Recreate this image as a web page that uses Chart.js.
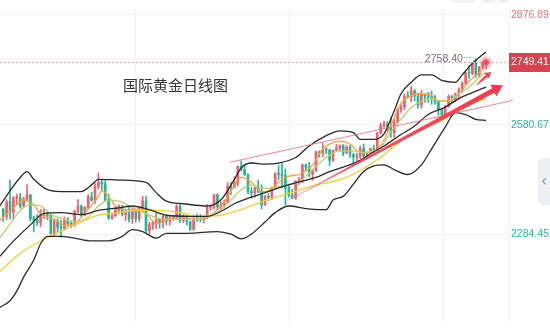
<!DOCTYPE html>
<html>
<head>
<meta charset="utf-8">
<title>国际黄金日线图</title>
<script src="https://cdn.jsdelivr.net/npm/chart.js@4.4.1/dist/chart.umd.min.js"></script>
<style>
  html, body { margin: 0; padding: 0; background: #fff; }
  #box { position: relative; width: 550px; height: 330px; overflow: hidden; }
  #goldChart { position: absolute; left: 0; top: 0; }
  .title { position: absolute; left: 123px; top: 75px; font: 15px/20px "Noto Sans CJK SC", sans-serif; color: #333; white-space: nowrap; }
  .side { position: absolute; left: 538px; top: 158px; width: 12px; height: 47px; background: #eef0f4; border-radius: 5px 0 0 5px; color: #8a8f99; font: 15px/47px "DejaVu Sans", sans-serif; text-align: center; }
  .tool { position: absolute; top: -4px; height: 7px; background: #f1f2f5; border-radius: 3px; }
</style>
</head>
<body>
<div id="box">
  <canvas id="goldChart" width="550" height="330"></canvas>
  <div class="title">国际黄金日线图</div>
  <div class="side">‹</div>
  <div class="tool" style="left:452px;width:23px"></div>
  <div class="tool" style="left:482px;width:13px"></div>
  <div class="tool" style="left:498px;width:11px"></div>
</div>
<script>
// daily XAU candles, one entry per trading day (index 0 = first visible day)
const opens = [
  2353,2333,2373,2344,2383,2384,2361,2379,2391,2327,
  2322,2316,2332,2337,2335,2286,2320,2303,2301,2323,
  2314,2309,2346,2360,2336,2358,2386,2377,2414,2425,
  2421,2379,2329,2334,2350,2361,2338,2343,2327,2350,
  2327,2355,2375,2294,2311,2316,2324,2317,2333,2319,
  2329,2328,2360,2322,2334,2319,2298,2327,2326,2324,
  2330,2356,2357,2392,2359,2364,2371,2415,2411,2422,
  2469,2459,2445,2400,2396,2409,2398,2364,2387,2384,
  2410,2448,2446,2443,2409,2390,2383,2427,2431,2472,
  2465,2447,2456,2507,2504,2514,2512,2484,2512,2518,
  2524,2504,2520,2500,2493,2495,2516,2497,2506,2516,
  2512,2558,2578,2582,2570,2559,2587,2622,2629,2657,
  2656,2672,2658,2634,2662,2658,2656,2653,2644,2622,
  2607,2630,2657,2648,2663,2674,2692,2720,2719,2748,
  2715,2736,2747
];
const highs = [
  2354,2378,2431,2387,2393,2395,2385,2418,2392,2334,
  2338,2352,2353,2347,2339,2326,2326,2323,2331,2330,
  2320,2350,2378,2364,2359,2392,2398,2422,2450,2433,
  2429,2393,2340,2358,2364,2362,2352,2360,2354,2352,
  2359,2388,2387,2317,2318,2342,2326,2336,2335,2335,
  2335,2365,2369,2337,2336,2320,2331,2339,2338,2334,
  2365,2364,2392,2393,2372,2377,2424,2425,2440,2469,
  2483,2470,2448,2412,2412,2431,2418,2390,2395,2413,
  2451,2470,2477,2461,2420,2405,2430,2438,2474,2474,
  2479,2460,2509,2510,2531,2518,2514,2512,2528,2526,
  2527,2524,2524,2503,2503,2523,2529,2507,2518,2525,
  2560,2585,2590,2589,2600,2595,2625,2634,2664,2670,
  2685,2675,2666,2673,2664,2668,2671,2660,2645,2625,
  2633,2661,2660,2666,2680,2696,2722,2740,2749,2758.40,
  2738,2750,2750
];
const lows = [
  2319,2324,2326,2325,2365,2355,2359,2374,2320,2291,
  2309,2305,2327,2324,2285,2281,2291,2277,2298,2306,
  2303,2306,2342,2333,2334,2354,2373,2368,2407,2403,
  2373,2325,2325,2333,2340,2334,2322,2318,2314,2317,
  2319,2350,2287,2286,2298,2300,2301,2302,2310,2309,
  2322,2327,2316,2316,2310,2294,2295,2319,2318,2315,
  2327,2350,2353,2353,2350,2356,2368,2392,2410,2415,
  2455,2444,2394,2382,2384,2397,2353,2363,2376,2379,
  2407,2432,2410,2364,2385,2380,2379,2419,2424,2456,
  2440,2431,2454,2492,2494,2502,2470,2481,2508,2509,
  2497,2502,2492,2472,2482,2489,2486,2493,2499,2500,
  2510,2556,2573,2564,2546,2547,2583,2613,2621,2652,
  2642,2645,2625,2625,2641,2641,2635,2636,2606,2605,
  2603,2627,2639,2643,2652,2667,2689,2705,2715,2708,
  2710,2730,2731
];
const closes = [
  2333,2372,2344,2383,2384,2361,2379,2392,2327,2322,
  2316,2332,2337,2335,2286,2320,2303,2301,2323,2314,
  2309,2346,2360,2336,2358,2386,2377,2414,2425,2421,
  2379,2329,2334,2350,2361,2338,2343,2327,2350,2327,
  2355,2375,2294,2311,2316,2324,2317,2333,2319,2329,
  2328,2360,2322,2334,2319,2298,2327,2326,2324,2330,
  2356,2357,2392,2359,2364,2371,2415,2411,2422,2469,
  2459,2445,2400,2396,2409,2398,2364,2387,2384,2410,
  2448,2446,2443,2409,2390,2383,2427,2431,2472,2465,
  2447,2456,2507,2504,2514,2512,2484,2512,2518,2524,
  2504,2520,2503,2493,2495,2516,2497,2506,2516,2512,
  2558,2578,2582,2570,2559,2587,2622,2629,2657,2656,
  2672,2658,2634,2662,2658,2656,2653,2644,2622,2607,
  2630,2657,2648,2663,2674,2692,2720,2719,2748,2715,
  2736,2747,2749.41
];

// Bollinger bands and moving averages, [day index, price]
const bollUpper = [[-1,2361],[2,2402],[5,2438],[7,2454],[9,2433],[13,2405],[17,2400],[23,2400],[26,2418],[28,2433],
  [34,2431],[42,2425],[45,2397],[48,2374],[53,2367],[60,2361],[64,2377],[68,2433],[70,2464],[73,2477],
  [77,2474],[81,2477],[86,2492],[90,2523],[95,2551],[99,2564],[103,2559],[105,2541],[109,2541],[112,2556],
  [115,2618],[117,2664],[120,2695],[123,2715],[126,2715],[129,2700],[133,2695],[135,2715],[138,2746],[142,2777]];
const bollMid = [[-1,2225],[3,2266],[8,2310],[12,2341],[17,2343],[23,2338],[28,2349],[34,2356],[38,2361],[43,2351],
  [48,2336],[55,2333],[60,2333],[64,2346],[68,2367],[73,2385],[77,2397],[81,2410],[87,2426],[92,2438],
  [96,2454],[101,2469],[105,2484],[108,2502],[112,2523],[117,2554],[121,2577],[125,2608],[130,2628],[134,2651],
  [138,2667],[142,2682]];
const bollLower = [[-1,2087],[2,2105],[4,2131],[6,2169],[9,2215],[11,2259],[13,2279],[17,2279],[21,2274],[26,2267],
  [31,2267],[35,2279],[38,2297],[41,2292],[45,2274],[48,2287],[54,2287],[63,2292],[67,2285],[70,2272],
  [73,2285],[77,2318],[80,2343],[84,2361],[89,2354],[93,2351],[95,2351],[97,2377],[100,2387],[103,2420],
  [106,2454],[109,2469],[112,2472],[115,2459],[119,2446],[123,2472],[126,2515],[130,2574],[133,2613],[136,2608],
  [139,2595],[142,2592]];
const ma5 = [[-1,2323],[1,2338],[4,2364],[6,2377],[9,2364],[11,2338],[15,2325],[18,2310],[21,2313],[23,2331],
  [28,2387],[29,2402],[31,2387],[33,2361],[36,2351],[40,2351],[43,2331],[45,2313],[48,2323],[52,2331],
  [56,2326],[59,2326],[62,2343],[65,2372],[68,2415],[70,2438],[73,2425],[76,2400],[78,2402],[81,2425],
  [84,2441],[87,2446],[91,2472],[94,2515],[96,2528],[99,2536],[102,2528],[105,2505],[108,2505],[111,2523],
  [114,2579],[117,2638],[120,2659],[123,2664],[126,2659],[128,2644],[131,2644],[134,2664],[137,2697],[140,2720],
  [142,2738]];
const ma10 = [[-1,2274],[3,2325],[5,2349],[8,2364],[11,2361],[14,2338],[17,2328],[21,2318],[25,2331],[28,2361],
  [31,2377],[34,2374],[37,2361],[40,2349],[43,2336],[48,2325],[54,2325],[60,2331],[64,2351],[67,2377],
  [70,2405],[73,2418],[75,2413],[78,2408],[81,2413],[84,2418],[87,2426],[91,2459],[95,2492],[99,2510],
  [103,2510],[106,2505],[109,2510],[111,2518],[114,2561],[117,2595],[120,2626],[123,2644],[126,2651],[128,2646],
  [131,2646],[134,2664],[137,2682],[140,2708],[142,2723]];
const ma30 = [[-1,2184],[5,2233],[11,2266],[17,2292],[23,2318],[28,2336],[34,2343],[40,2349],[46,2349],[52,2343],
  [58,2333],[64,2336],[70,2351],[75,2369],[84,2395],[91,2415],[101,2438],[111,2492],[118,2543],[128,2587],
  [137,2633],[142,2651]];

// hand-drawn trend line and arrows, in [day index, price]
const trendLine = [[66.7, 2479], [149.9, 2646]];
const bigArrow = [[82.3, 2369], [147.0, 2687]];
const smallArrow = [[139.1, 2687], [143.5, 2723]];

const yTicks = [2284.45, 2580.67, 2876.89];
const xGridIdx = [38.8, 84.1, 129.4];

const X_MIN = -0.94, X_MAX = 148.76;
const Y_MIN = 2048.5, Y_MAX = 2894.8;

const UP = '#f0606f', DOWN = '#25b592';
const candleColors = closes.map((c, i) => (c >= opens[i] ? UP : DOWN));

function lineSet(points, color, width) {
  return {
    type: 'line',
    data: points.map(p => ({ x: p[0], y: p[1] })),
    borderColor: color,
    borderWidth: width,
    pointRadius: 0,
    cubicInterpolationMode: 'monotone',
    fill: false,
    order: 1
  };
}

function drawArrow(ctx, p0, p1, w0, w1, headLen, headW) {
  const dx = p1[0] - p0[0], dy = p1[1] - p0[1];
  const len = Math.hypot(dx, dy);
  const ux = dx / len, uy = dy / len, nx = -uy, ny = ux;
  const bx = p1[0] - ux * headLen, by = p1[1] - uy * headLen;
  const g = ctx.createLinearGradient(p0[0], p0[1], p1[0], p1[1]);
  g.addColorStop(0, 'rgba(245,140,150,0.55)');
  g.addColorStop(0.3, '#f45566');
  g.addColorStop(1, '#f03a4e');
  ctx.fillStyle = g;
  ctx.beginPath();
  ctx.moveTo(p0[0] + nx * w0 / 2, p0[1] + ny * w0 / 2);
  ctx.lineTo(bx + nx * w1 / 2, by + ny * w1 / 2);
  ctx.lineTo(bx + nx * headW / 2, by + ny * headW / 2);
  ctx.lineTo(p1[0], p1[1]);
  ctx.lineTo(bx - nx * headW / 2, by - ny * headW / 2);
  ctx.lineTo(bx - nx * w1 / 2, by - ny * w1 / 2);
  ctx.lineTo(p0[0] - nx * w0 / 2, p0[1] - ny * w0 / 2);
  ctx.closePath();
  ctx.fill();
}

// trend lines, arrows, last price line and high marker
const overlay = {
  id: 'overlay',
  afterDraw(chart) {
    const { ctx, chartArea, scales: { x, y } } = chart;
    const px = p => [x.getPixelForValue(p[0]), y.getPixelForValue(p[1])];
    ctx.save();

    const a = px(trendLine[0]), b = px(trendLine[1]);
    ctx.strokeStyle = 'rgba(242,110,125,0.85)';
    ctx.lineWidth = 1;
    ctx.beginPath(); ctx.moveTo(a[0], a[1]); ctx.lineTo(b[0], b[1]); ctx.stroke();

    drawArrow(ctx, px(bigArrow[0]), px(bigArrow[1]), 0.8, 5, 11, 13);
    drawArrow(ctx, px(smallArrow[0]), px(smallArrow[1]), 1.8, 2.6, 6, 7);

    // last price
    const last = closes.length - 1;
    const lx = x.getPixelForValue(last);
    const ly = y.getPixelForValue(closes[last]);
    ctx.setLineDash([2, 2]);
    ctx.strokeStyle = '#f5a3ab';
    ctx.beginPath(); ctx.moveTo(chartArea.left, Math.round(ly) + 0.5); ctx.lineTo(chartArea.right, Math.round(ly) + 0.5); ctx.stroke();
    ctx.setLineDash([]);

    const rg = ctx.createRadialGradient(lx, ly, 0, lx, ly, 8);
    rg.addColorStop(0, 'rgba(232,66,82,1)');
    rg.addColorStop(0.3, 'rgba(232,66,82,0.8)');
    rg.addColorStop(0.55, 'rgba(240,110,122,0.35)');
    rg.addColorStop(1, 'rgba(240,110,122,0)');
    ctx.fillStyle = rg;
    ctx.beginPath(); ctx.arc(lx, ly, 8, 0, Math.PI * 2); ctx.fill();

    ctx.fillStyle = '#d8434f';
    ctx.fillRect(chartArea.right, Math.round(ly) - 9, chart.width - chartArea.right, 19);
    ctx.fillStyle = '#fff';
    ctx.font = '10.5px "Liberation Sans", Arial, sans-serif';
    ctx.textAlign = 'left';
    ctx.textBaseline = 'middle';
    ctx.fillText(closes[last].toFixed(2), chartArea.right + 2, Math.round(ly) + 0.5);

    // highest high
    const top = Math.max(...highs);
    const hi = highs.indexOf(top);
    const hx = x.getPixelForValue(hi), hy = y.getPixelForValue(top);
    ctx.fillStyle = '#6f6f84';
    ctx.textAlign = 'right';
    ctx.fillText(top.toFixed(2), hx - 13, hy);
    ctx.setLineDash([1, 1.5]);
    ctx.strokeStyle = '#8c8c9c';
    ctx.beginPath();
    ctx.moveTo(hx - 12, Math.round(hy) - 1.5);
    ctx.lineTo(hx - 2, Math.round(hy) - 1.5);
    ctx.lineTo(hx - 2, Math.round(hy) + 3);
    ctx.stroke();
    ctx.restore();
  }
};

new Chart(document.getElementById('goldChart'), {
  type: 'bar',
  data: {
    datasets: [
      lineSet(bollUpper, '#2b2b2b', 1.3),
      lineSet(bollMid, '#2b2b2b', 1.3),
      lineSet(bollLower, '#2b2b2b', 1.3),
      lineSet(ma30, '#f7cd3c', 1.3),
      lineSet(ma10, '#b9cf78', 1.3),
      lineSet(ma5, '#f7a04b', 1.3),
      {
        data: closes.map((c, i) => ({ x: i, y: [lows[i], highs[i]] })),
        backgroundColor: candleColors,
        barThickness: 1,
        grouped: false,
        order: 5
      },
      {
        data: closes.map((c, i) => ({ x: i, y: [opens[i], c] })),
        backgroundColor: candleColors,
        barThickness: 2,
        minBarLength: 1,
        grouped: false,
        order: 4
      }
    ]
  },
  options: {
    responsive: false,
    animation: false,
    events: [],
    layout: { padding: 0 },
    plugins: { legend: { display: false }, tooltip: { enabled: false } },
    scales: {
      x: {
        type: 'linear',
        min: X_MIN,
        max: X_MAX,
        offset: false,
        afterBuildTicks: s => { s.ticks = xGridIdx.map(v => ({ value: v })); },
        ticks: { display: false },
        grid: { color: '#f1f1f1', drawTicks: false, offset: false },
        border: { display: false }
      },
      y: {
        position: 'right',
        min: Y_MIN,
        max: Y_MAX,
        afterBuildTicks: s => { s.ticks = yTicks.map(v => ({ value: v })); },
        afterFit: s => { s.width = 41; },
        ticks: {
          padding: 2,
          font: { family: '"Liberation Sans", Arial, sans-serif', size: 10.5 },
          color: c => (c.tick && c.tick.value === yTicks[yTicks.length - 1] ? '#e8727c' : '#2bb49b'),
          callback: v => v.toFixed(2)
        },
        grid: { color: '#f1f1f1', drawTicks: false },
        border: { color: '#f1f1f1' }
      }
    }
  },
  plugins: [overlay]
});
</script>
</body>
</html>
